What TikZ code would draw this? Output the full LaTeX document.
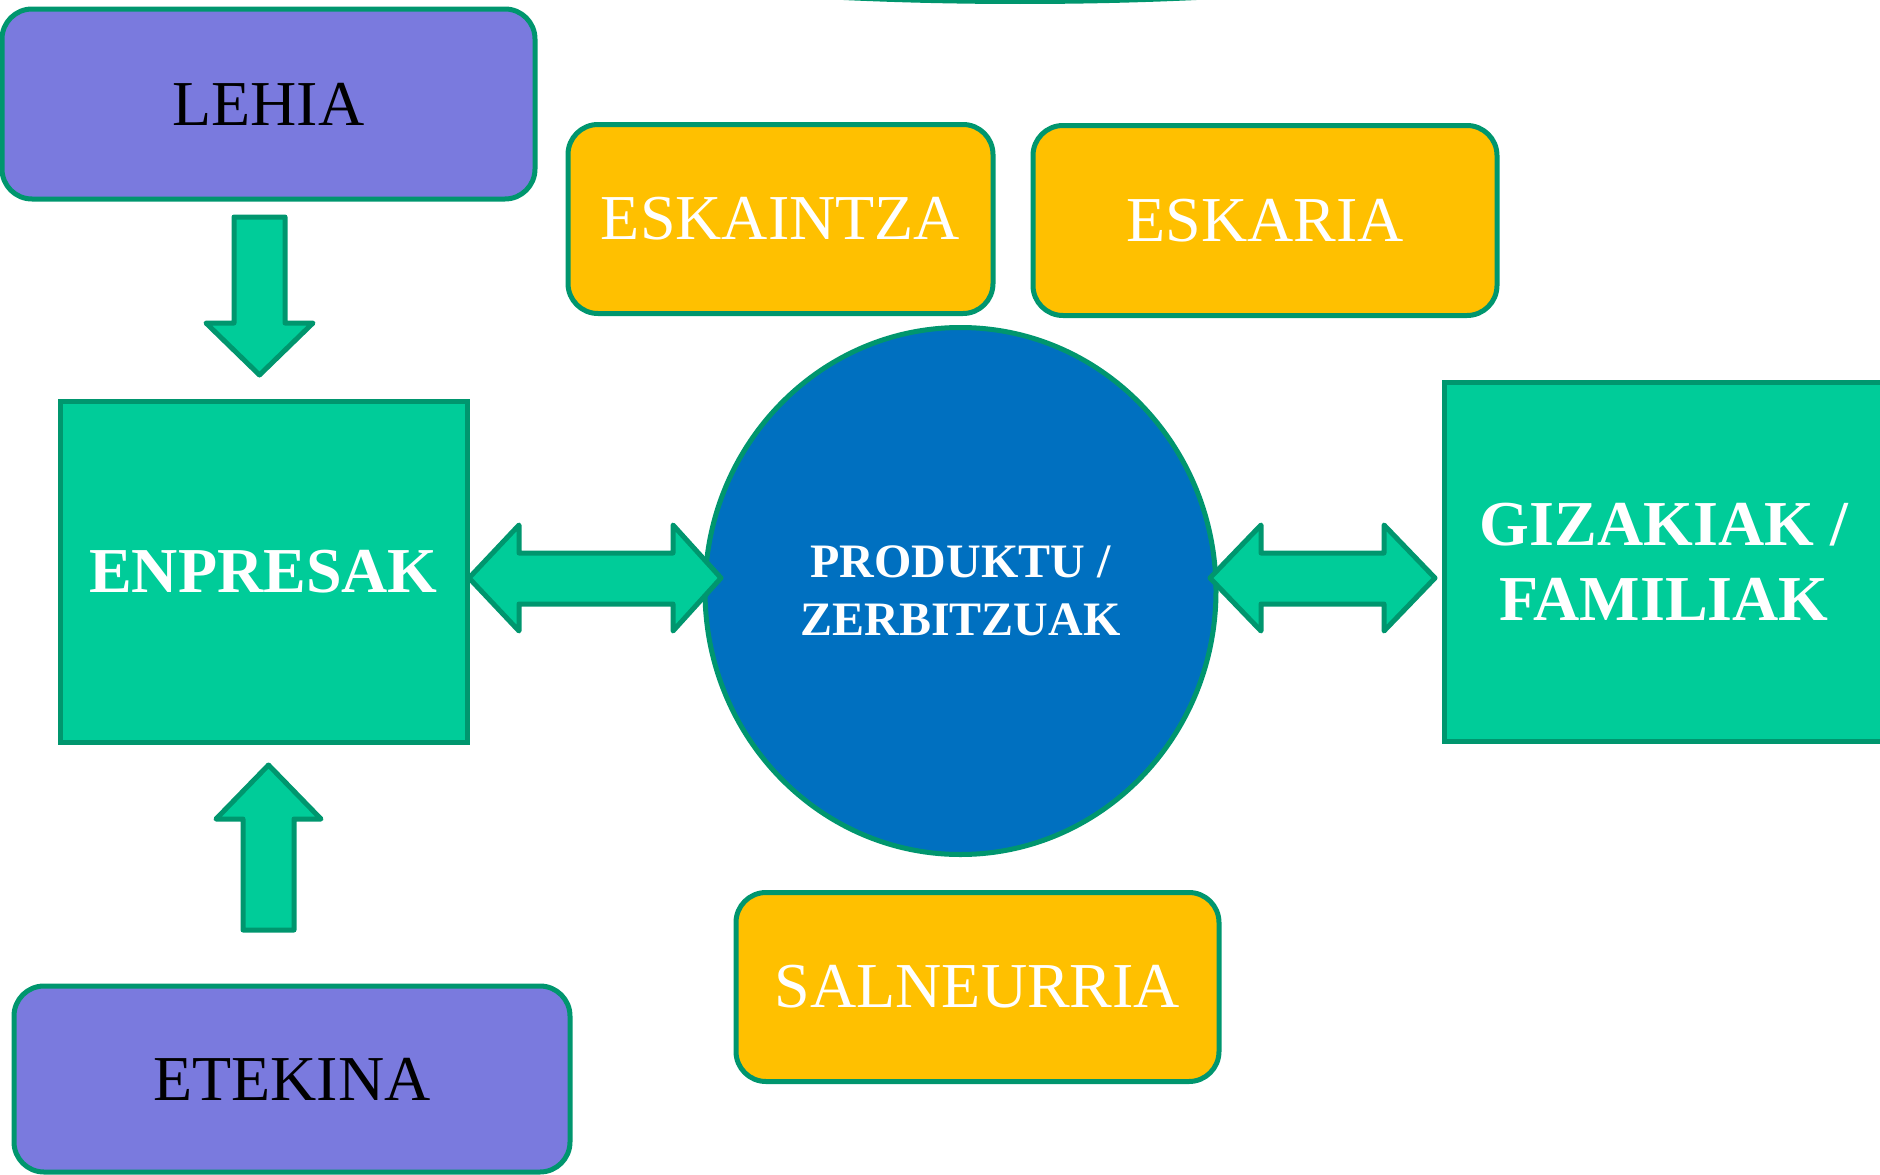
\documentclass[tikz,border=0pt]{standalone}
\usepackage{fontspec}
\setmainfont{Liberation Serif}
\usetikzlibrary{shapes.geometric}
\definecolor{edgegreen}{RGB}{0,150,110}
\definecolor{mint}{RGB}{0,204,153}
\definecolor{lilac}{RGB}{122,122,222}
\definecolor{amber}{RGB}{255,192,0}
\definecolor{royal}{RGB}{0,112,192}
\tikzset{
  base/.style={draw=edgegreen, line width=5pt, inner sep=0pt, outer sep=0pt, align=center},
  purplebox/.style={base, fill=lilac, rounded corners=30pt, text=black, font=\fontsize{64}{76}\selectfont},
  orangebox/.style={base, fill=amber, rounded corners=30pt, text=white, font=\fontsize{64}{76}\selectfont},
  greenbox/.style={base, fill=mint, text=white, font=\bfseries\fontsize{64}{75.5}\selectfont},
  roundnode/.style={base, ellipse, fill=royal, text=white, font=\bfseries\fontsize{48}{57.5}\selectfont},
  blockarrow/.style={draw=edgegreen, line width=5pt, fill=mint, line join=round}
}
\begin{document}
\begin{tikzpicture}[x=1pt,y=-1pt]
\useasboundingbox (0,0) rectangle (1880,1175);
% top partial shape
\fill[edgegreen] (1020,-87) ellipse [x radius=600, y radius=91];
% boxes
\node[purplebox, minimum width=533pt, minimum height=190pt] (lehia) at (268.5,104) {LEHIA};
\node[orangebox, minimum width=425pt, minimum height=189pt] (eskaintza) at (780.5,219) {ESKAINTZA};
\node[orangebox, minimum width=464pt, minimum height=190pt] (eskaria) at (1265,220.5) {ESKARIA};
\node[greenbox, minimum width=407pt, minimum height=341pt] (enpresak) at (263.5,572) {ENPRESAK};
\node[greenbox, minimum width=440pt, minimum height=359pt] (gizakiak) at (1664,562) {GIZAKIAK /\\FAMILIAK};
\node[roundnode, minimum width=511pt, minimum height=527pt] (produktu) at (960.5,591) {PRODUKTU /\\ZERBITZUAK};
\node[orangebox, minimum width=483pt, minimum height=189pt] (salneurria) at (977.5,987) {SALNEURRIA};
\node[purplebox, minimum width=556pt, minimum height=186pt] (etekina) at (292,1079) {ETEKINA};
% block arrows
\draw[blockarrow] (234,217) -- (285,217) -- (285,323) -- (313,323) -- (259.5,375) -- (206,323) -- (234,323) -- cycle;
\draw[blockarrow] (243,930) -- (294,930) -- (294,819) -- (321,819) -- (268.5,765) -- (216,819) -- (243,819) -- cycle;
\draw[blockarrow] (469,578) -- (519,525) -- (519,553) -- (673,553) -- (673,525) -- (721,578) -- (673,631) -- (673,604) -- (519,604) -- (519,631) -- cycle;
\draw[blockarrow] (1210,578) -- (1261,525) -- (1261,553) -- (1384,553) -- (1384,525) -- (1435,578) -- (1384,631) -- (1384,604) -- (1261,604) -- (1261,631) -- cycle;
\end{tikzpicture}
\end{document}
